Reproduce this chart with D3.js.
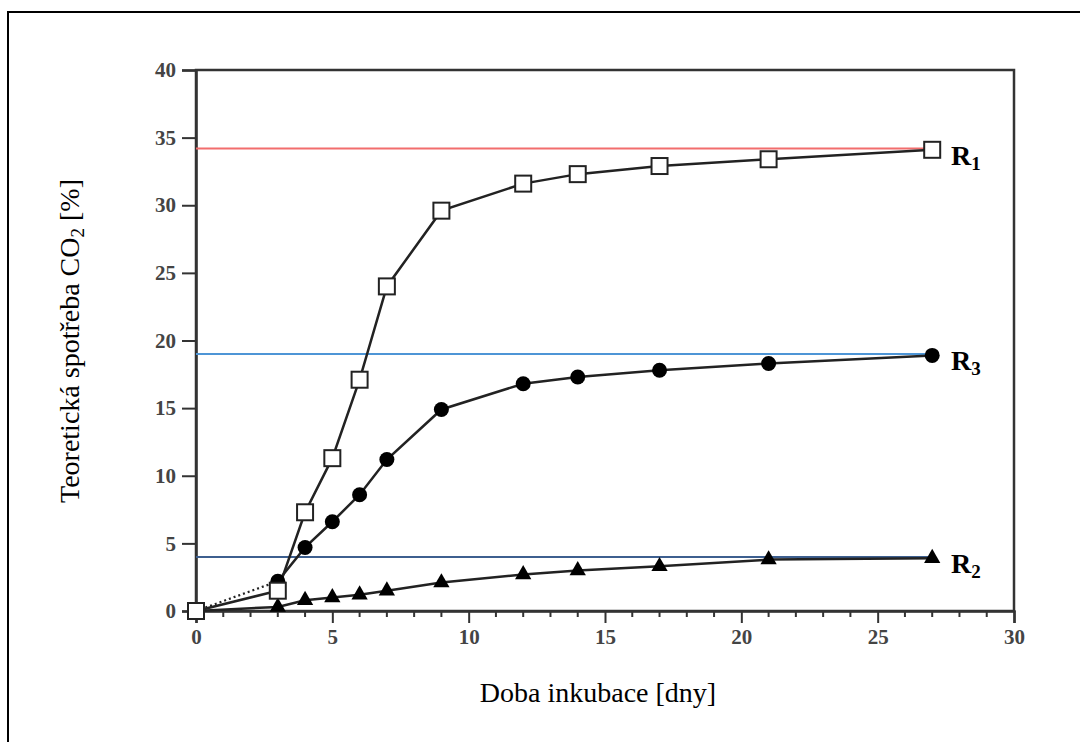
<!DOCTYPE html>
<html><head><meta charset="utf-8">
<script src="https://cdn.jsdelivr.net/npm/d3@7"></script>
<style>body{margin:0;background:#fff}svg{display:block}</style>
</head><body>
<svg id="c" width="1080" height="742"></svg>
<script>
const days = [0, 3, 4, 5, 6, 7, 9, 12, 14, 17, 21, 27];
const r1 = [0, 1.5, 7.3, 11.3, 17.1, 24.0, 29.6, 31.6, 32.3, 32.9, 33.4, 34.1];
const r3 = [0, 2.2, 4.7, 6.6, 8.6, 11.2, 14.9, 16.8, 17.3, 17.8, 18.3, 18.9];
const r2 = [0, 0.3, 0.8, 1.0, 1.2, 1.5, 2.1, 2.7, 3.0, 3.3, 3.8, 3.9];
const refLevels = [34.2, 19.0, 4.0];
const refColors = ["#f26d6d", "#4d95d6", "#3d5f8f"];
const xTicks = [0, 5, 10, 15, 20, 25, 30];
const yTicks = [0, 5, 10, 15, 20, 25, 30, 35, 40];

const FONT = "'Liberation Serif', 'Times New Roman', serif";
const svg = d3.select("#c");
const x = d3.scaleLinear().domain([0, 30]).range([196, 1014]);
const y = d3.scaleLinear().domain([0, 40]).range([611, 70]);

// outer frame (cropped)
svg.append("rect").attr("x", 8).attr("y", 12).attr("width", 1100).attr("height", 800)
  .attr("fill", "none").attr("stroke", "#000").attr("stroke-width", 2);

// plot box
svg.append("rect").attr("x", x(0)).attr("y", y(40)).attr("width", x(30) - x(0)).attr("height", y(0) - y(40))
  .attr("fill", "none").attr("stroke", "#333").attr("stroke-width", 2.5);

// axes
const xAxis = d3.axisBottom(x).tickValues(xTicks).tickSize(12).tickPadding(6).tickFormat(d3.format("d"));
const gx = svg.append("g").attr("transform", `translate(0,${y(0)})`).call(xAxis);
gx.append("g").selectAll("line").data(d3.range(0, 31).filter(d => d % 5 !== 0)).join("line")
  .attr("x1", d => x(d)).attr("x2", d => x(d)).attr("y1", 0).attr("y2", 6)
  .attr("stroke", "#333").attr("stroke-width", 2);
const yAxis = d3.axisLeft(y).tickValues(yTicks).tickSize(14).tickPadding(6).tickFormat(d3.format("d"));
const gy = svg.append("g").attr("transform", `translate(${x(0)},0)`).call(yAxis);
[gx, gy].forEach(g => {
  g.select(".domain").attr("stroke", "#333").attr("stroke-width", 2.5);
  g.selectAll(".tick line").attr("stroke", "#333").attr("stroke-width", 2);
  g.selectAll(".tick text").attr("font-family", FONT).attr("font-weight", "bold")
    .attr("font-size", 21).attr("fill", "#444");
});

// reference lines
refLevels.forEach((v, i) => {
  svg.append("line").attr("x1", x(0)).attr("x2", x(27)).attr("y1", y(v)).attr("y2", y(v))
    .attr("stroke", refColors[i]).attr("stroke-width", 2);
});

const line = d3.line().x(d => x(d[0])).y(d => y(d[1]));
const pts = arr => days.map((d, i) => [d, arr[i]]);

// series lines
function drawSeries(arr, dottedFirst) {
  const p = pts(arr);
  if (dottedFirst) {
    svg.append("path").attr("d", line(p.slice(0, 2))).attr("fill", "none").attr("stroke", "#222")
      .attr("stroke-width", 2.2).attr("stroke-dasharray", "2,3");
    svg.append("path").attr("d", line(p.slice(1))).attr("fill", "none").attr("stroke", "#222").attr("stroke-width", 2.5);
  } else {
    svg.append("path").attr("d", line(p)).attr("fill", "none").attr("stroke", "#222").attr("stroke-width", 2.5);
  }
}
drawSeries(r2, false);
drawSeries(r3, true);
drawSeries(r1, false);

// markers
const tri = d3.symbol().type(d3.symbolTriangle).size(115);
svg.append("g").selectAll("path").data(pts(r2).slice(1)).join("path")
  .attr("d", tri).attr("transform", d => `translate(${x(d[0])},${y(d[1])})`).attr("fill", "#000");
svg.append("g").selectAll("circle").data(pts(r3).slice(1)).join("circle")
  .attr("cx", d => x(d[0])).attr("cy", d => y(d[1])).attr("r", 7.5).attr("fill", "#000");
svg.append("g").selectAll("rect").data(pts(r1)).join("rect")
  .attr("x", d => x(d[0]) - 8).attr("y", d => y(d[1]) - 8).attr("width", 16).attr("height", 16)
  .attr("fill", "#fff").attr("stroke", "#222").attr("stroke-width", 2);

// series labels
const labels = [["R", "1", r1[r1.length - 1]], ["R", "3", r3[r3.length - 1]], ["R", "2", r2[r2.length - 1]]];
labels.forEach(l => {
  const t = svg.append("text").attr("x", 951).attr("y", y(l[2]) + 15)
    .attr("font-family", FONT).attr("font-weight", "bold").attr("font-size", 28).attr("fill", "#000");
  t.append("tspan").text(l[0]);
  t.append("tspan").attr("font-size", 19).attr("dy", 5).text(l[1]);
});

// axis titles
svg.append("text").attr("x", 598).attr("y", 702).attr("text-anchor", "middle")
  .attr("font-family", FONT).attr("font-size", 28).text("Doba inkubace [dny]");
const yt = svg.append("text").attr("transform", `translate(79,341) rotate(-90)`).attr("text-anchor", "middle")
  .attr("font-family", FONT).attr("font-size", 28);
yt.append("tspan").text("Teoretická spotřeba CO");
yt.append("tspan").attr("font-size", 19).attr("dy", 5).text("2");
yt.append("tspan").attr("dy", -5).text(" [%]");
</script>
</body></html>
